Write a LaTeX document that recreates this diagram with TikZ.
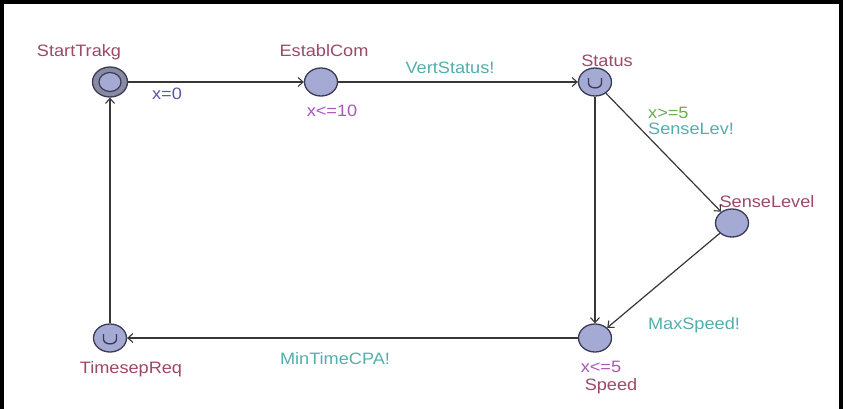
\documentclass[tikz,border=0pt]{standalone}
\usepackage{fontspec}
\setmainfont[FakeStretch=1.1]{Liberation Sans}
\usetikzlibrary{arrows.meta,shapes.geometric,calc}
\definecolor{locfill}{RGB}{164,170,212}
\definecolor{ringfill}{RGB}{136,138,164}
\definecolor{locline}{RGB}{58,58,84}
\definecolor{edgecol}{RGB}{55,55,55}
\definecolor{namecol}{RGB}{158,72,104}
\definecolor{assigncol}{RGB}{88,88,170}
\definecolor{invcol}{RGB}{168,88,186}
\definecolor{synccol}{RGB}{84,174,174}
\definecolor{guardcol}{RGB}{104,174,78}
\tikzset{
  loc/.style={ellipse, draw=locline, fill=locfill, line width=1.3bp,
    minimum width=33bp, minimum height=28bp, inner sep=0pt},
  initloc/.style={loc, fill=ringfill, minimum width=35bp, minimum height=30bp},
  inner ring/.style={draw=locline, fill=locfill, line width=1.2bp},
  urgmark/.style={draw=locline, line width=1.3bp},
  edge/.style={draw=edgecol, line width=1.2bp,
    -{Straight Barb[length=5bp,width=9bp,line width=1.1bp]}},
  txt/.style={font=\fontsize{16.56pt}{19pt}\selectfont, inner sep=0pt, anchor=base},
  lname/.style={txt, text=namecol},
  lassign/.style={txt, text=assigncol},
  linv/.style={txt, text=invcol},
  lsync/.style={txt, text=synccol},
  lguard/.style={txt, text=guardcol},
  frame/.style={draw=black, line width=4.5bp}
}
\begin{document}
\begin{tikzpicture}[x=1bp,y=-1bp]
\useasboundingbox (0,0) rectangle (849,408);
\fill[white] (0,0) rectangle (849,408);
% frame (open at the bottom)
\draw[frame] (1.5,410) -- (1.5,2.2) -- (841,2.2) -- (841,410);

% locations
\node[initloc] (StartTrakg) at (110,82) {};
\node[loc] (EstablCom) at (321,82) {};
\node[loc] (Status) at (595,82) {};
\node[loc] (SenseLevel) at (732,223) {};
\node[loc] (Speed) at (595,338) {};
\node[loc] (TimesepReq) at (110,338) {};

% initial marker
\draw[inner ring] (StartTrakg.center) ellipse [x radius=11, y radius=9.5];
% urgent marks
\draw[urgmark] ($(Status)+(-6.5,-4)$) -- ($(Status)+(-6.5,1)$)
  .. controls ($(Status)+(-6.5,7.5)$) and ($(Status)+(6.5,7.5)$) .. ($(Status)+(6.5,1)$)
  -- ($(Status)+(6.5,-4)$);
\draw[urgmark] ($(TimesepReq)+(-6.5,-4)$) -- ($(TimesepReq)+(-6.5,1)$)
  .. controls ($(TimesepReq)+(-6.5,7.5)$) and ($(TimesepReq)+(6.5,7.5)$) .. ($(TimesepReq)+(6.5,1)$)
  -- ($(TimesepReq)+(6.5,-4)$);

% location names
\node[lname] (nStartTrakg) at (79,56) {StartTrakg};
\node[lname] (nEstablCom) at (324,56) {EstablCom};
\node[lname] (nStatus) at (607,66) {Status};
\node[lname] (nSenseLevel) at (767,207) {SenseLevel};
\node[lname] (nSpeed) at (611,390) {Speed};
\node[lname] (nTimesepReq) at (131,373) {TimesepReq};

% invariants
\node[linv] (iEstablCom) at (332,116) {x<=10};
\node[linv] (iSpeed) at (601,372) {x<=5};

% edges
\draw[edge] (StartTrakg) -- (EstablCom);
\draw[edge] (EstablCom) -- (Status);
\draw[edge] (Status) -- (SenseLevel);
\draw[edge] (Status) -- (Speed);
\draw[edge] (SenseLevel) -- (Speed);
\draw[edge] (Speed) -- (TimesepReq);
\draw[edge] (TimesepReq) -- (StartTrakg);

% edge labels
\node[lassign] (a1) at (167,99) {x=0};
\node[lsync] (s1) at (450,73) {VertStatus!};
\node[lguard, anchor=base west] (g1) at (648,118) {x>=5};
\node[lsync, anchor=base west] (s2) at (648,134) {SenseLev!};
\node[lsync] (s3) at (694,329) {MaxSpeed!};
\node[lsync] (s4) at (335,364) {MinTimeCPA!};
\end{tikzpicture}
\end{document}
